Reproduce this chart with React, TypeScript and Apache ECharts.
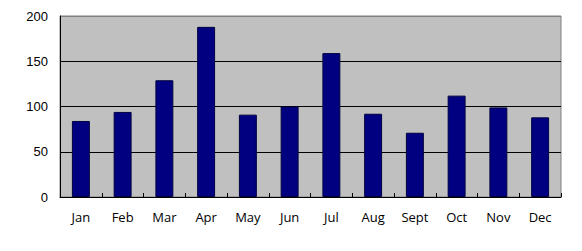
import React, { useEffect, useRef } from "react";
import * as echarts from "echarts";

const categories = ["Jan", "Feb", "Mar", "Apr", "May", "Jun", "Jul", "Aug", "Sept", "Oct", "Nov", "Dec"];
const values = [84, 94, 129, 188, 91, 100, 159, 92, 71, 112, 99, 88];
const yTicks = [0, 50, 100, 150, 200];

export default function App() {
  const ref = useRef<HTMLDivElement>(null);
  useEffect(() => {
    if (!ref.current) return;
    const chart = echarts.init(ref.current, undefined, { renderer: "svg" });
    chart.setOption({
      animation: false,
      backgroundColor: "#ffffff",
      grid: {
        left: 60,
        top: 16,
        right: 21,
        bottom: 54,
        show: true,
        backgroundColor: "#c0c0c0",
        borderColor: "#808080",
        borderWidth: 1,
      },
      xAxis: {
        type: "category",
        data: categories,
        axisLine: { lineStyle: { color: "#000", width: 1 } },
        axisTick: { show: true, inside: true, length: 4, lineStyle: { color: "#000" } },
        axisLabel: {
          color: "#000",
          fontFamily: "Open Sans, Liberation Sans, sans-serif",
          fontSize: 13,
          margin: 13,
        },
      },
      yAxis: {
        type: "value",
        min: yTicks[0],
        max: yTicks[yTicks.length - 1],
        interval: 50,
        axisLine: { show: true, lineStyle: { color: "#000", width: 1 } },
        axisTick: { show: false },
        splitLine: {
          show: true,
          lineStyle: { color: ["#000", "#000", "#000", "#000", "#808080"], width: 1 },
        },
        axisLabel: {
          color: "#000",
          fontFamily: "Liberation Sans, Arial, sans-serif",
          fontSize: 13,
          margin: 12,
        },
      },
      series: [
        {
          type: "bar",
          data: values,
          barWidth: "43%",
          itemStyle: { color: "#000080", borderColor: "#000040", borderWidth: 1 },
        },
      ],
    });
    return () => chart.dispose();
  }, []);
  return (
    <div
      ref={ref}
      style={{ position: "fixed", left: 0, top: 0, width: 582, height: 251 }}
    />
  );
}
